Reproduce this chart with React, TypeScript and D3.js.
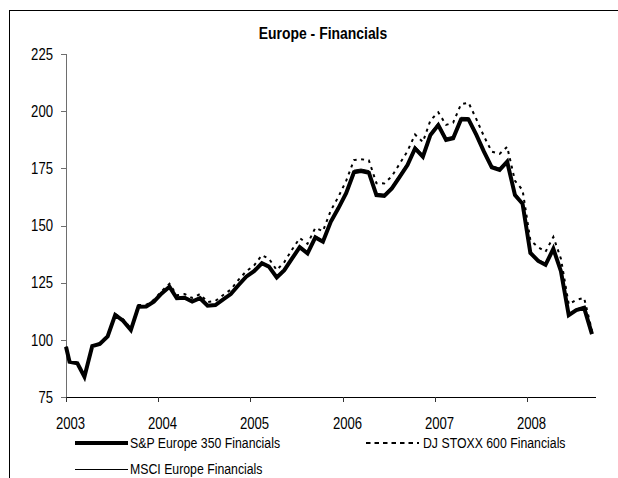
import React from "react";
import * as d3 from "d3";

const W = 618;
const H = 478;

const chartTitle = "Europe - Financials";
const yTicks = [75, 100, 125, 150, 175, 200, 225];
const yearTicks = [2003, 2004, 2005, 2006, 2007, 2008];

const startDate = "2003-01-01";
const firstMonth = "2003-01-15";
const monthCount = 69;

const startValues = { sp: 97, dj: 97, msci: 97 };

const spValues = [
  90.4, 89.7, 83.9, 97.3, 98.2, 101.5, 110.9, 108.4, 104.3, 114.5, 114.6, 116.7,
  120.3, 123.2, 118.2, 118.4, 116.7, 118.2, 114.9, 115.2, 117.7, 120.0, 124.0, 127.6,
  130.0, 133.5, 132.0, 127.3, 130.5, 135.6, 140.5, 137.8, 144.8, 142.9, 151.6, 157.5,
  164.1, 173.3, 173.8, 173.1, 163.3, 162.9, 166.2, 171.3, 176.4, 183.7, 180.1, 189.6,
  193.9, 187.4, 188.1, 196.4, 196.4, 189.6, 182.3, 175.4, 174.3, 177.9, 163.3, 159.5,
  138.0, 134.5, 132.8, 139.8, 130.0, 110.8, 113.0, 114.0, 102.5,
];

const djValues = [
  90.5, 89.8, 84.0, 97.5, 98.5, 102.0, 111.3, 109.0, 105.0, 115.2, 115.3, 117.5,
  121.3, 124.5, 119.5, 120.0, 118.3, 120.0, 116.5, 117.0, 119.6, 122.0, 126.3, 130.0,
  132.5, 137.0, 135.5, 130.5, 134.0, 139.5, 144.5, 142.0, 149.0, 147.5, 156.5, 162.5,
  169.5, 178.6, 179.0, 178.5, 168.5, 168.4, 171.5, 177.0, 182.5, 189.8, 186.5, 196.0,
  199.5, 194.0, 195.0, 203.0, 203.7, 196.5, 189.0, 182.3, 181.3, 184.4, 169.5, 165.5,
  143.5, 140.5, 138.5, 145.0, 135.5, 115.5, 117.5, 118.3, 104.0,
];

const msciValues = [
  90.6, 89.9, 84.1, 97.5, 98.4, 101.7, 111.1, 108.6, 104.5, 114.8, 114.9, 117.0,
  120.6, 123.5, 118.5, 118.7, 117.0, 118.6, 115.2, 115.5, 118.1, 120.4, 124.4, 128.0,
  130.5, 134.0, 132.5, 127.8, 131.0, 136.1, 141.1, 138.4, 145.4, 143.5, 152.3, 158.2,
  164.9, 174.2, 174.7, 174.0, 164.1, 163.7, 167.0, 172.2, 177.3, 184.6, 181.0, 190.5,
  194.8, 188.3, 189.0, 197.3, 197.2, 190.4, 183.1, 176.2, 175.1, 178.7, 164.1, 160.2,
  138.7, 135.2, 133.4, 140.4, 130.6, 111.3, 113.5, 114.5, 103.0,
];

const seriesNames = [
  "S&P Europe 350 Financials",
  "DJ STOXX 600 Financials",
  "MSCI Europe Financials",
];

const FONT = '"Liberation Sans", Arial, sans-serif';
const NARROW = 0.82;

type Pt = { date: Date; v: number };

function NText(props: {
  x: number;
  y: number;
  size: number;
  anchor?: "start" | "middle" | "end";
  bold?: boolean;
  dy?: string;
  children: React.ReactNode;
}) {
  return (
    <text
      transform={`translate(${props.x},${props.y}) scale(${NARROW},1)`}
      textAnchor={props.anchor || "start"}
      dy={props.dy}
      fontFamily={FONT}
      fontSize={props.size}
      fontWeight={props.bold ? "bold" : "normal"}
      fill="#000"
    >
      {props.children}
    </text>
  );
}

export default function App() {
  const parse = d3.timeParse("%Y-%m-%d");
  const start = parse(startDate) as Date;
  const m0 = parse(firstMonth) as Date;
  const monthDates = d3.range(monthCount).map((i) => d3.timeMonth.offset(m0, i));

  const x = d3
    .scaleTime()
    .domain([new Date(2003, 0, 1), new Date(2008, 9, 1)])
    .range([66, 596]);
  const y = d3.scaleLinear().domain([75, 225]).range([397, 54]);

  const build = (s0: number, vals: number[]): Pt[] => [
    { date: start, v: s0 },
    ...vals.map((v, i) => ({ date: monthDates[i], v })),
  ];

  const line = d3
    .line<Pt>()
    .x((d) => x(d.date))
    .y((d) => y(d.v));

  const sp = line(build(startValues.sp, spValues)) || "";
  const dj = line(build(startValues.dj, djValues)) || "";
  const ms = line(build(startValues.msci, msciValues)) || "";

  const x0 = x.range()[0];
  const x1 = x.range()[1];
  const yb = y(75);

  return (
    <div style={{ position: "absolute", left: 0, top: 0, width: W, height: H, background: "#fff" }}>
      <svg width={W} height={H} style={{ display: "block" }}>
        <rect x={0} y={0} width={W} height={H} fill="#fff" />
        <rect x={9.5} y={10.5} width={640} height={500} fill="none" stroke="#000" strokeWidth={1} />
        <NText x={323} y={39} size={17} bold anchor="middle">
          {chartTitle}
        </NText>

        {/* y axis */}
        <line x1={x0 + 0.5} x2={x0 + 0.5} y1={y(225)} y2={yb} stroke="#6e6e6e" strokeWidth={1} />
        {yTicks.map((t) => (
          <g key={t}>
            <line
              x1={x0 - 5}
              x2={x0}
              y1={Math.round(y(t)) + 0.5}
              y2={Math.round(y(t)) + 0.5}
              stroke="#6e6e6e"
            />
            <NText x={x0 - 13} y={y(t)} dy="0.36em" size={16} anchor="end">
              {t}
            </NText>
          </g>
        ))}

        {/* x axis */}
        <line
          x1={x0}
          x2={x1}
          y1={Math.round(yb) + 0.5}
          y2={Math.round(yb) + 0.5}
          stroke="#000"
          strokeWidth={1}
        />
        {yearTicks.map((yr) => {
          const xx = Math.round(x(new Date(yr, 0, 1))) + 0.5;
          return (
            <g key={yr}>
              <line x1={xx} x2={xx} y1={yb} y2={yb + 5} stroke="#333" />
              <NText x={xx + 4} y={429} size={16} anchor="middle">
                {yr}
              </NText>
            </g>
          );
        })}

        {/* series */}
        <path d={dj} fill="none" stroke="#000" strokeWidth={2} strokeDasharray="3,4.5" />
        <path d={sp} fill="none" stroke="#000" strokeWidth={4} strokeLinejoin="miter" />
        <path d={ms} fill="none" stroke="#000" strokeWidth={1} />

        {/* legend */}
        <line x1={75} x2={128} y1={443} y2={443} stroke="#000" strokeWidth={4} />
        <NText x={130} y={448} size={15}>
          {seriesNames[0]}
        </NText>
        <line x1={366} x2={419} y1={443} y2={443} stroke="#000" strokeWidth={2} strokeDasharray="4.5,4" />
        <NText x={423} y={448} size={15}>
          {seriesNames[1]}
        </NText>
        <line x1={75} x2={128} y1={469.5} y2={469.5} stroke="#000" strokeWidth={1} />
        <NText x={130} y={474} size={15}>
          {seriesNames[2]}
        </NText>
      </svg>
    </div>
  );
}
